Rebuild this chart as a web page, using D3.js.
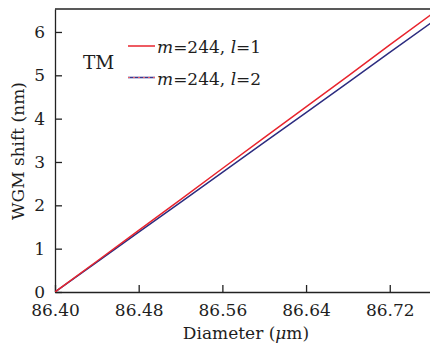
<!DOCTYPE html>
<html>
<head>
<meta charset="utf-8">
<script src="https://cdn.jsdelivr.net/npm/d3@7"></script>
<style>
  body { margin: 0; background: #fff; }
  svg text { font-family: "DejaVu Serif", "Liberation Serif", serif; fill: #1e1e1e; }
</style>
</head>
<body>
<div id="chart"></div>
<script>
// diameter (um) and WGM shift (nm)
const diameters = [86.40, 86.44, 86.48, 86.52, 86.56, 86.60, 86.64, 86.68, 86.72, 86.76];
const shiftL1 = [0, 0.71, 1.42, 2.13, 2.85, 3.56, 4.27, 4.98, 5.70, 6.41];
const shiftL2 = [0, 0.69, 1.38, 2.07, 2.76, 3.45, 4.14, 4.83, 5.53, 6.22];
const xTicks = [86.40, 86.48, 86.56, 86.64, 86.72];
const yTicks = [0, 1, 2, 3, 4, 5, 6];

let width = 430, height = 346;
let margin = {top: 9, left: 55, bottom: 54};
let plotRight = 431.6;

let svg = d3.select("#chart").append("svg")
    .attr("width", width)
    .attr("height", height);

let x = d3.scaleLinear()
    .domain([86.40, 86.76])
    .range([margin.left, plotRight]);

let y = d3.scaleLinear()
    .domain([0, 6.53])
    .range([height - margin.bottom, margin.top]);

// clip for the lines
svg.append("clipPath").attr("id", "clip")
    .append("rect")
    .attr("x", margin.left).attr("y", margin.top)
    .attr("width", plotRight - margin.left)
    .attr("height", y(0) - margin.top);

// x axis with inward ticks
let xAxis = svg.append("g")
    .attr("transform", "translate(0," + y(0) + ")")
    .call(d3.axisBottom(x).tickValues(xTicks).tickFormat(d3.format(".2f"))
        .tickSizeInner(-7).tickSizeOuter(0).tickPadding(12));
xAxis.selectAll("text").attr("font-size", 17).attr("dy", "0.72em");

// y axis with inward ticks
let yAxis = svg.append("g")
    .attr("transform", "translate(" + margin.left + ",0)")
    .call(d3.axisLeft(y).tickValues(yTicks).tickFormat(d3.format("d"))
        .tickSizeInner(-7).tickSizeOuter(0).tickPadding(10));
yAxis.selectAll("text").attr("font-size", 17);

svg.selectAll(".domain, .tick line").attr("stroke", "#222").attr("stroke-width", 1.3);

// top border
svg.append("line")
    .attr("x1", margin.left).attr("x2", plotRight)
    .attr("y1", y(6.53)).attr("y2", y(6.53))
    .attr("stroke", "#222").attr("stroke-width", 1.3);

// axis titles
svg.append("text")
    .attr("x", 246).attr("y", 339)
    .attr("text-anchor", "middle")
    .attr("font-size", 17)
    .html('Diameter (<tspan font-style="italic">μ</tspan>m)');

svg.append("text")
    .attr("transform", "translate(24,151) rotate(-90)")
    .attr("text-anchor", "middle")
    .attr("font-size", 17)
    .text("WGM shift (nm)");

// lines
let line = d3.line()
    .x((d, i) => x(diameters[i]))
    .y(d => y(d));

let plot = svg.append("g").attr("clip-path", "url(#clip)");

plot.append("path")
    .datum(shiftL2)
    .attr("d", line)
    .attr("fill", "none")
    .attr("stroke", "#2d2d80")
    .attr("stroke-width", 1.5);

plot.append("path")
    .datum(shiftL1)
    .attr("d", line)
    .attr("fill", "none")
    .attr("stroke", "#e8252e")
    .attr("stroke-width", 1.5);

// legend
svg.append("text")
    .attr("x", 83).attr("y", 69)
    .attr("font-size", 18.5)
    .text("TM");

let legend = svg.append("g");

legend.append("line")
    .attr("x1", 128).attr("x2", 155)
    .attr("y1", 46).attr("y2", 46)
    .attr("stroke", "#e8252e").attr("stroke-width", 1.5);

legend.append("line")
    .attr("x1", 128).attr("x2", 155)
    .attr("y1", 77.5).attr("y2", 77.5)
    .attr("stroke", "#3a3a90").attr("stroke-width", 1.6);

legend.append("line")
    .attr("x1", 128).attr("x2", 155)
    .attr("y1", 77.5).attr("y2", 77.5)
    .attr("stroke", "#e8606a").attr("stroke-width", 1)
    .attr("stroke-dasharray", "2,3");

legend.append("text")
    .attr("x", 157).attr("y", 53)
    .attr("font-size", 17)
    .html('<tspan font-style="italic">m</tspan>=244, <tspan font-style="italic">l</tspan>=1');

legend.append("text")
    .attr("x", 157).attr("y", 85)
    .attr("font-size", 17)
    .html('<tspan font-style="italic">m</tspan>=244, <tspan font-style="italic">l</tspan>=2');
</script>
</body>
</html>
